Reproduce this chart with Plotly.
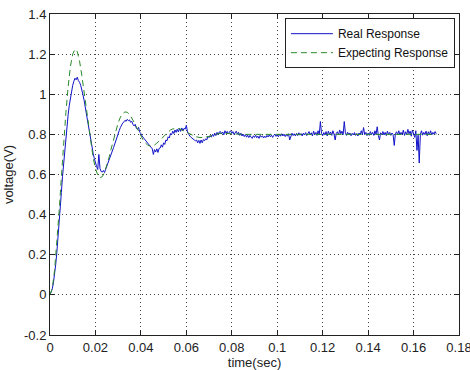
import plotly.graph_objects as go

# ---------------- data ----------------
# Real (measured) response, uniformly sampled every 0.5 ms from t = 0 to 0.17 s
real_dt = 0.0005
real_v = [
    0.000, 0.012, 0.030, 0.060, 0.100, 0.150, 0.210, 0.275, 0.350, 0.430,  # 0.000
    0.510, 0.590, 0.660, 0.730, 0.790, 0.850, 0.900, 0.945, 0.985, 1.015,  # 0.005
    1.045, 1.065, 1.080, 1.072, 1.085, 1.068, 1.060, 1.045, 1.025, 0.998,  # 0.010
    0.970, 0.935, 0.900, 0.862, 0.825, 0.792, 0.765, 0.735, 0.705, 0.680,  # 0.015
    0.655, 0.640, 0.625, 0.700, 0.630, 0.615, 0.612, 0.620, 0.610, 0.625,  # 0.020
    0.640, 0.650, 0.668, 0.685, 0.700, 0.718, 0.735, 0.752, 0.772, 0.788,  # 0.025
    0.805, 0.820, 0.835, 0.848, 0.856, 0.862, 0.870, 0.865, 0.875, 0.868,  # 0.030
    0.872, 0.860, 0.865, 0.850, 0.842, 0.850, 0.830, 0.825, 0.835, 0.810,  # 0.035
    0.805, 0.792, 0.785, 0.775, 0.770, 0.760, 0.752, 0.745, 0.738, 0.730,  # 0.040
    0.728, 0.700, 0.724, 0.712, 0.728, 0.710, 0.730, 0.732, 0.748, 0.736,  # 0.045
    0.758, 0.750, 0.772, 0.768, 0.788, 0.782, 0.804, 0.798, 0.816, 0.804,  # 0.050
    0.822, 0.810, 0.826, 0.812, 0.829, 0.815, 0.832, 0.818, 0.830, 0.826,  # 0.055
    0.845, 0.812, 0.800, 0.792, 0.786, 0.780, 0.776, 0.772, 0.768, 0.772,  # 0.060
    0.758, 0.770, 0.755, 0.772, 0.758, 0.774, 0.768, 0.778, 0.772, 0.790,  # 0.065
    0.784, 0.794, 0.786, 0.800, 0.790, 0.806, 0.794, 0.810, 0.798, 0.812,  # 0.070
    0.814, 0.803, 0.812, 0.798, 0.818, 0.806, 0.815, 0.802, 0.812, 0.818,  # 0.075
    0.805, 0.814, 0.800, 0.809, 0.816, 0.801, 0.810, 0.795, 0.806, 0.792,  # 0.080
    0.801, 0.789, 0.799, 0.786, 0.796, 0.784, 0.795, 0.786, 0.780, 0.793,  # 0.085
    0.785, 0.796, 0.783, 0.791, 0.780, 0.795, 0.786, 0.793, 0.782, 0.791,  # 0.090
    0.784, 0.795, 0.787, 0.798, 0.788, 0.796, 0.785, 0.795, 0.801, 0.790,  # 0.095
    0.798, 0.788, 0.800, 0.791, 0.803, 0.792, 0.801, 0.789, 0.799, 0.791,  # 0.100
    0.803, 0.772, 0.797, 0.806, 0.794, 0.803, 0.792, 0.805, 0.794, 0.808,  # 0.105
    0.796, 0.804, 0.792, 0.806, 0.797, 0.809, 0.794, 0.804, 0.814, 0.797,  # 0.110
    0.808, 0.792, 0.816, 0.799, 0.810, 0.795, 0.818, 0.798, 0.864, 0.805,  # 0.115
    0.793, 0.809, 0.797, 0.814, 0.792, 0.816, 0.799, 0.812, 0.795, 0.818,  # 0.120
    0.801, 0.772, 0.805, 0.813, 0.797, 0.822, 0.803, 0.816, 0.799, 0.864,  # 0.125
    0.808, 0.795, 0.810, 0.799, 0.807, 0.793, 0.805, 0.797, 0.809, 0.795,  # 0.130
    0.804, 0.792, 0.807, 0.799, 0.818, 0.799, 0.834, 0.799, 0.810, 0.794,  # 0.135
    0.806, 0.795, 0.814, 0.799, 0.810, 0.795, 0.818, 0.799, 0.838, 0.795,  # 0.140
    0.772, 0.808, 0.799, 0.814, 0.797, 0.810, 0.794, 0.816, 0.799, 0.810,  # 0.145
    0.795, 0.807, 0.799, 0.745, 0.803, 0.813, 0.799, 0.818, 0.797, 0.810,  # 0.150
    0.799, 0.821, 0.795, 0.813, 0.799, 0.825, 0.803, 0.816, 0.791, 0.822,  # 0.155
    0.799, 0.785, 0.818, 0.720, 0.796, 0.657, 0.800, 0.818, 0.796, 0.810,  # 0.160
    0.799, 0.816, 0.793, 0.813, 0.799, 0.818, 0.797, 0.810, 0.801, 0.814,  # 0.165
    0.803,                                                                  # 0.170
]
real_t = [i * real_dt for i in range(len(real_v))]

# Expected (model) response
expected_t = [
    0.000, 0.001, 0.002, 0.003, 0.004, 0.005, 0.006, 0.007, 0.008, 0.009,
    0.010, 0.011, 0.012, 0.013, 0.014, 0.015, 0.016, 0.017, 0.018, 0.019,
    0.020, 0.021, 0.022, 0.023, 0.024, 0.025, 0.026, 0.027, 0.028, 0.029,
    0.030, 0.031, 0.032, 0.033, 0.034, 0.035, 0.036, 0.037, 0.038, 0.039,
    0.040, 0.041, 0.042, 0.043, 0.044, 0.045, 0.046, 0.047, 0.048, 0.049,
    0.050, 0.051, 0.052, 0.053, 0.054, 0.055, 0.056, 0.057, 0.058, 0.059,
    0.060, 0.062, 0.064, 0.066, 0.068, 0.070, 0.072, 0.074, 0.076, 0.078,
    0.080, 0.085, 0.090, 0.100, 0.110, 0.120, 0.130, 0.140, 0.150, 0.160,
    0.170,
]
expected_v = [
    0.000, 0.032, 0.121, 0.253, 0.413, 0.585, 0.755, 0.910, 1.039, 1.140,
    1.200, 1.225, 1.212, 1.165, 1.095, 1.012, 0.921, 0.832, 0.750, 0.682,
    0.630, 0.598, 0.584, 0.589, 0.610, 0.644, 0.686, 0.732, 0.779, 0.822,
    0.858, 0.886, 0.904, 0.912, 0.910, 0.900, 0.883, 0.861, 0.838, 0.813,
    0.791, 0.771, 0.757, 0.747, 0.742, 0.743, 0.747, 0.756, 0.767, 0.779,
    0.792, 0.804, 0.814, 0.822, 0.827, 0.830, 0.830, 0.828, 0.823, 0.818,
    0.811, 0.799, 0.789, 0.784, 0.785, 0.790, 0.797, 0.803, 0.806, 0.806,
    0.803, 0.800, 0.799, 0.800, 0.800, 0.800, 0.800, 0.800, 0.800, 0.800,
    0.800,
]

x_ticks = [0, 0.02, 0.04, 0.06, 0.08, 0.1, 0.12, 0.14, 0.16, 0.18]
x_tick_labels = ["0", "0.02", "0.04", "0.06", "0.08", "0.1", "0.12", "0.14", "0.16", "0.18"]
y_ticks = [-0.2, 0, 0.2, 0.4, 0.6, 0.8, 1, 1.2, 1.4]
y_tick_labels = ["-0.2", "0", "0.2", "0.4", "0.6", "0.8", "1", "1.2", "1.4"]

# ---------------- figure ----------------
fig = go.Figure()
fig.add_trace(go.Scatter(
    x=real_t, y=real_v, mode="lines", name="Real Response",
    line=dict(color="#1212c8", width=1),
))
fig.add_trace(go.Scatter(
    x=expected_t, y=expected_v, mode="lines", name="Expecting Response",
    line=dict(color="#2a8a2a", width=1, dash="6px,4px"),
))

font_family = "Liberation Sans, Arial, sans-serif"
axis_common = dict(
    showline=True, linecolor="#222", linewidth=1, mirror="ticks",
    ticks="inside", ticklen=5, tickcolor="#222", tickwidth=1,
    showgrid=True, gridcolor="#444", gridwidth=1, griddash="1px,3px",
    zeroline=False, automargin=False, ticklabeloverflow="allow",
    tickfont=dict(family=font_family, size=13, color="#222"),
)

fig.update_layout(
    width=470, height=370,
    margin=dict(l=50, r=11, t=14, b=35),
    paper_bgcolor="white", plot_bgcolor="white",
    showlegend=True,
    legend=dict(
        x=0.99, y=0.987, xanchor="right", yanchor="top",
        bgcolor="white", bordercolor="#222", borderwidth=1,
        font=dict(family=font_family, size=12, color="#111"),
        tracegroupgap=0, itemwidth=42,
    ),
    xaxis=dict(
        range=[0, 0.18], tickvals=x_ticks, ticktext=x_tick_labels,
        title=dict(text="time(sec)", standoff=7,
                   font=dict(family=font_family, size=13, color="#222")),
        **axis_common,
    ),
    yaxis=dict(
        range=[-0.2, 1.4], tickvals=y_ticks, ticktext=y_tick_labels,
        title=dict(text="voltage(V)", standoff=7,
                   font=dict(family=font_family, size=13, color="#222")),
        **axis_common,
    ),
)

# remove the default page margin so the 470x370 figure fills the window exactly
fig.write_html(
    "out.html",
    config={"displayModeBar": False},
    post_script="document.body.style.margin='0';document.body.style.overflow='hidden';",
)
